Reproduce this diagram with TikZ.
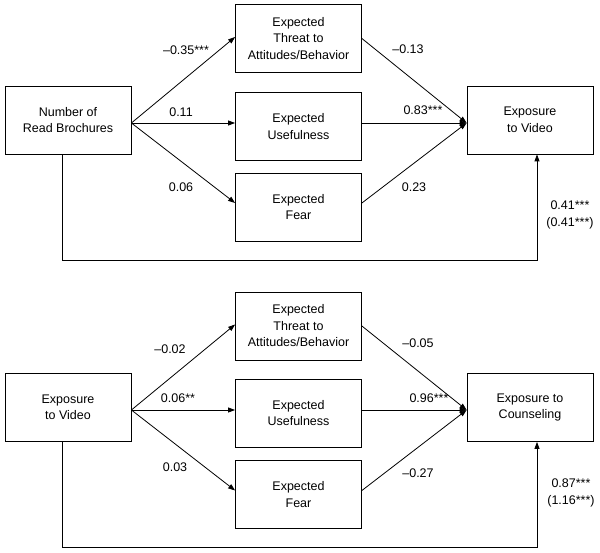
\documentclass[tikz,border=0pt]{standalone}
\usepackage{fontspec}
\setmainfont{Liberation Sans}
\usetikzlibrary{arrows.meta, positioning, calc}

\begin{document}
\begin{tikzpicture}[
    x=1pt, y=1pt,
    var box/.style={draw, line width=0.8pt, minimum width=126pt, minimum height=68pt, align=center, inner sep=2pt, font=\fontsize{12.5}{16.5}\selectfont},
    path arr/.style={-{Triangle[length=7pt, width=5pt]}, line width=0.8pt},
    coef/.style={font=\fontsize{12.5}{17}\selectfont, inner sep=0pt, align=center}
]
    \useasboundingbox (0,0) rectangle (600,-553);

    % Upper model: brochures -> video
    \node[var box] (broch) at (68,-120) {Number of\\Read Brochures};
    \node[var box] (threat_v) at (298.5,-38.5) {Expected\\Threat to\\Attitudes/Behavior};
    \node[var box] (useful_v) at (298.5,-126.5) {Expected\\Usefulness};
    \node[var box] (fear_v) at (298.5,-207) {Expected\\Fear};
    \node[var box] (video_v) at (530,-120) {Exposure\\to Video};

    \coordinate (src_v) at ([yshift=-3pt]broch.east);
    \coordinate (hub_v) at ([yshift=-3pt]video_v.west);

    % a paths
    \draw[path arr] (src_v) -- ([yshift=1.5pt]threat_v.west);
    \draw[path arr] (src_v) -- (src_v -| useful_v.west);
    \draw[path arr] (src_v) -- ([yshift=4pt]fear_v.west);

    % b paths
    \draw[path arr] (threat_v.east) -- (hub_v);
    \draw[path arr] (src_v -| useful_v.east) -- (hub_v);
    \draw[path arr] ([yshift=4pt]fear_v.east) -- (hub_v);

    % direct path
    \coordinate (fb_v) at (537,-260);
    \draw[path arr] ([xshift=-6pt]broch.south) |- (fb_v) -- (fb_v |- video_v.south);

    \node[coef] at (186,-50) {–0.35***};
    \node[coef] at (181,-112) {0.11};
    \node[coef] at (181,-187) {0.06};
    \node[coef] at (408,-49) {–0.13};
    \node[coef] at (423,-110) {0.83***};
    \node[coef] at (414,-187) {0.23};
    \node[coef] at (570,-214.5) {0.41***\\(0.41***)};

    % Lower model: video -> counseling
    \node[var box] (video_c) at (68,-407.5) {Exposure\\to Video};
    \node[var box] (threat_c) at (298.5,-326) {Expected\\Threat to\\Attitudes/Behavior};
    \node[var box] (useful_c) at (298.5,-413) {Expected\\Usefulness};
    \node[var box] (fear_c) at (298.5,-494.5) {Expected\\Fear};
    \node[var box] (couns) at (530,-407.5) {Exposure to\\Counseling};

    \coordinate (src_c) at ([yshift=-2.5pt]video_c.east);
    \coordinate (hub_c) at ([yshift=-2.5pt]couns.west);

    % a paths
    \draw[path arr] (src_c) -- ([yshift=1.5pt]threat_c.west);
    \draw[path arr] (src_c) -- (src_c -| useful_c.west);
    \draw[path arr] (src_c) -- ([yshift=4pt]fear_c.west);

    % b paths
    \draw[path arr] (threat_c.east) -- (hub_c);
    \draw[path arr] (src_c -| useful_c.east) -- (hub_c);
    \draw[path arr] ([yshift=4pt]fear_c.east) -- (hub_c);

    % direct path
    \coordinate (fb_c) at (537,-547);
    \draw[path arr] ([xshift=-6pt]video_c.south) |- (fb_c) -- (fb_c |- couns.south);

    \node[coef] at (170,-349) {–0.02};
    \node[coef] at (178,-398) {0.06**};
    \node[coef] at (175,-467) {0.03};
    \node[coef] at (418,-343) {–0.05};
    \node[coef] at (429,-398) {0.96***};
    \node[coef] at (418,-473) {–0.27};
    \node[coef] at (571,-493) {0.87***\\(1.16***)};
\end{tikzpicture}
\end{document}
